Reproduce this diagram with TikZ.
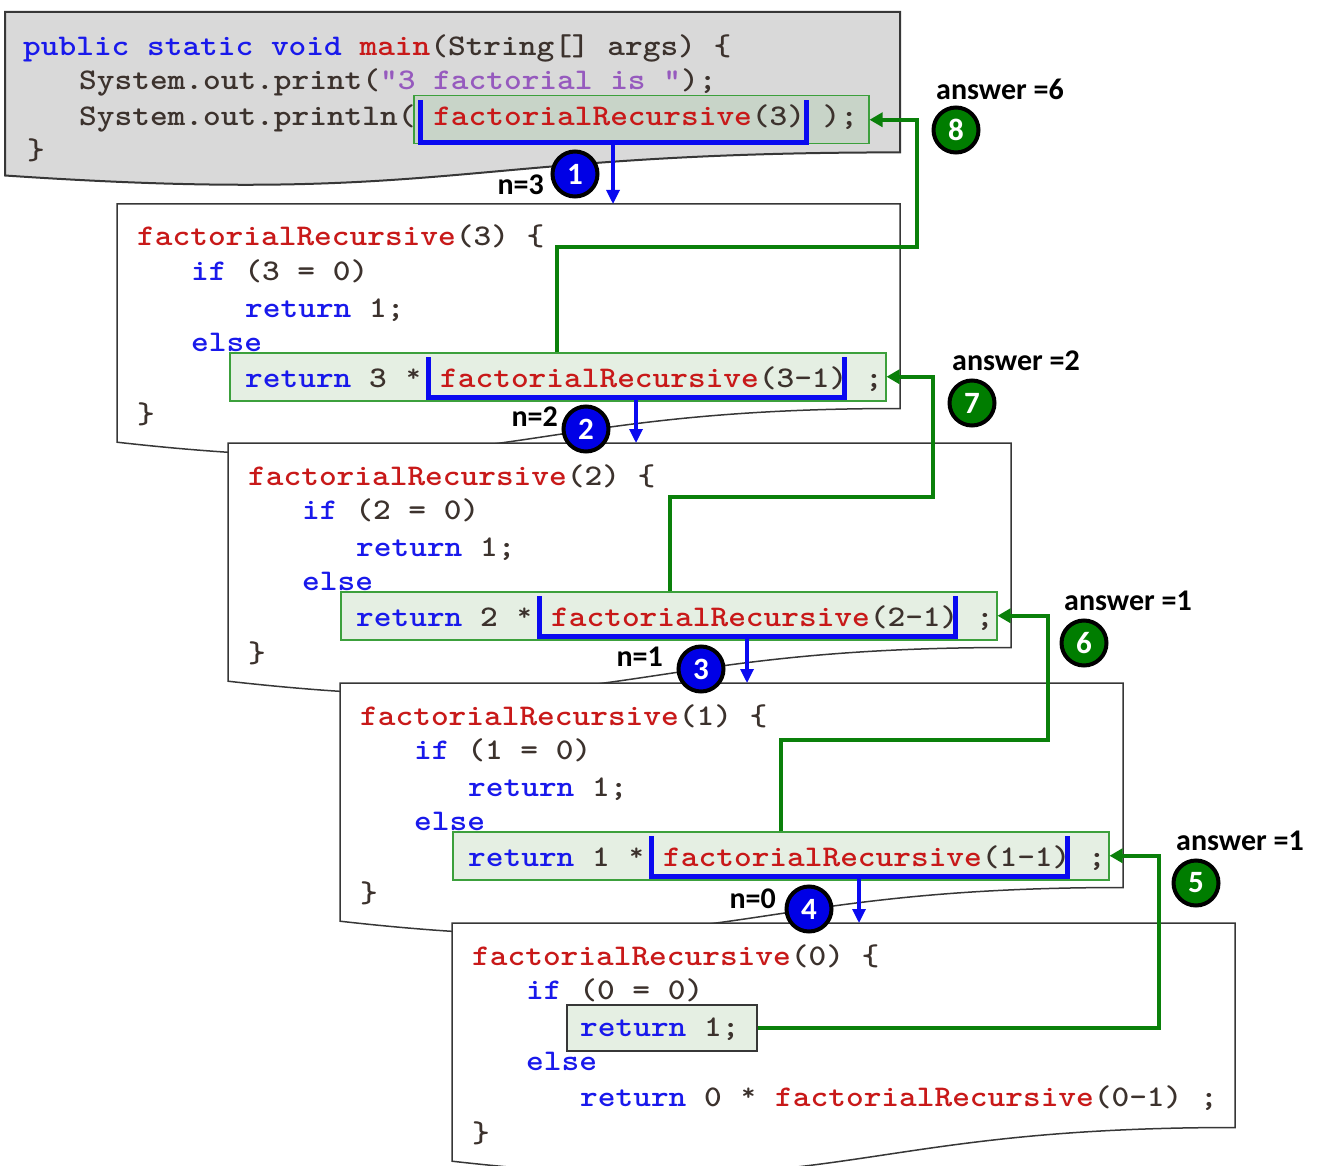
\documentclass[tikz,border=0pt]{standalone}
\usepackage{fontspec}
\newfontfamily\codefont{lmmono10-regular.otf}[BoldFont=lmmonolt10-bold.otf, FakeStretch=1.124]
\newfontfamily\lblfont{Carlito}
\usetikzlibrary{arrows.meta,calc}
\definecolor{kwc}{RGB}{25,25,235}
\definecolor{fnc}{RGB}{200,25,25}
\definecolor{stc}{RGB}{150,90,190}
\definecolor{txc}{RGB}{60,50,45}
\definecolor{gline}{RGB}{10,128,10}
\definecolor{gboxline}{RGB}{60,160,60}
\definecolor{gboxfill}{RGB}{229,239,227}
\definecolor{mboxfill}{RGB}{200,212,200}
\definecolor{mainfill}{RGB}{217,217,217}
\definecolor{framec}{RGB}{55,55,55}
\definecolor{bluec}{RGB}{10,10,240}
\definecolor{circblue}{RGB}{0,0,230}
\definecolor{circgreen}{RGB}{0,125,0}
\newcommand\ckw[1]{\textcolor{kwc}{#1}}
\newcommand\cfn[1]{\textcolor{fnc}{#1}}
\newcommand\cstr[1]{\textcolor{stc}{#1}}
\newcommand\cast{\makebox[0.6em]{\raisebox{0.18em}{\scalebox{0.8}{*}}}}
\tikzset{
  code/.style={anchor=base west, inner sep=0pt, text=txc,
    font=\codefont\bfseries\fontsize{30}{35}\selectfont},
  docframe/.style={draw=framec, line width=1.5pt, fill=white},
  gbox/.style={draw=gboxline, line width=1.5pt, fill=gboxfill, inner sep=0pt},
  bracket/.style={draw=bluec, line width=5pt},
  barrow/.style={draw=bluec, line width=3.2pt, -{Triangle[length=14pt,width=13pt]}},
  gret/.style={draw=gline, line width=4pt, -{Triangle[length=13pt,width=14pt]}},
  numcirc/.style={circle, draw=black, line width=4pt, minimum size=45pt, inner sep=0pt,
    text=white, font=\lblfont\bfseries\fontsize{31}{31}\selectfont},
  bluecirc/.style={numcirc, fill=circblue},
  greencirc/.style={numcirc, fill=circgreen},
  lbl/.style={inner sep=0pt, text=black, font=\lblfont\bfseries\fontsize{30}{30}\selectfont},
}
\newcommand\recframe[4]{% #1 L, #2 T, #3 n, #4 id
\begin{scope}[shift={(#1,#2)}]
  \coordinate (#4top) at (0,0);
  \draw[docframe] (0,0) -- (783,0) -- (783,204.5)
     .. controls (391.5,204.5) and (391.5,282.3) .. (0,238.2) -- cycle;
  \node[gbox, minimum width=656pt, minimum height=48pt, anchor=north west] (#4box) at (112,148) {};
  \draw[bracket] (311,153) -- (311,193) -- (727,193) -- (727,153);
  \coordinate (#4bot) at (519,193);
  \node[code] (#4l1) at (20,42) {\cfn{factorialRecursive}(#3) \{};
  \node[code] (#4l2) at (74,76) {\ckw{if} (#3 = 0)};
  \node[code] (#4l3) at (128,113) {\ckw{return} 1;};
  \node[code] (#4l4) at (74,147) {\ckw{else}};
  \node[code] (#4l5) at (128,183) {\ckw{return} #3 \cast{} \cfn{factorialRecursive}(#3-1) ;};
  \node[code] (#4l6) at (20,219) {\}};
\end{scope}}
\begin{document}
\begin{tikzpicture}[x=1pt,y=-1pt]
\useasboundingbox (0,0) rectangle (1325,1166);
% main frame
\draw[docframe, fill=mainfill, line width=2pt] (5,12) -- (900,12) -- (900,152.4)
   .. controls (452.5,152.4) and (452.5,205.7) .. (5,175.5) -- cycle;
\node[gbox, fill=mboxfill, minimum width=455pt, minimum height=48pt, anchor=north west] (m0box) at (413,95) {};
\draw[bracket] (420,100) -- (420,143) -- (806,143) -- (806,100);
\coordinate (m0bot) at (613,143);
\node[code] (m1) at (23,56) {\ckw{public static void} \cfn{main}(String[] args) \{};
\node[code] (m2) at (79,90) {System.out.print(\cstr{"3 factorial is "});};
\node[code] (m3) at (79,126) {System.out.println( \cfn{factorialRecursive}(3) );};
\node[code] (m4) at (27,160) {\}};
% recursive frames
\recframe{117}{204}{3}{f1}
\recframe{228}{443}{2}{f2}
\recframe{340}{683}{1}{f3}
% base frame
\begin{scope}[shift={(452,923)}]
  \coordinate (f4top) at (0,0);
  \draw[docframe] (0,0) -- (783,0) -- (783,204.5)
     .. controls (391.5,204.5) and (391.5,282.3) .. (0,238.2) -- cycle;
  \node[gbox, draw=framec, minimum width=190pt, minimum height=46pt, anchor=north west] (f4ret) at (114,81) {};
  \node[code] (f4l1) at (20,42) {\cfn{factorialRecursive}(0) \{};
  \node[code] (f4l2) at (74,76) {\ckw{if} (0 = 0)};
  \node[code] (f4l3) at (128,113) {\ckw{return} 1;};
  \node[code] (f4l4) at (74,147) {\ckw{else}};
  \node[code] (f4l5) at (128,183) {\ckw{return} 0 \cast{} \cfn{factorialRecursive}(0-1) ;};
  \node[code] (f4l6) at (20,219) {\}};
\end{scope}
% call arrows
\draw[barrow] (m0bot) -- (m0bot |- f1top);
\draw[barrow] (f1bot) -- (f1bot |- f2top);
\draw[barrow] (f2bot) -- (f2bot |- f3top);
\draw[barrow] (f3bot) -- (f3bot |- f4top);
% return arrows
\coordinate (r8) at (557,352);
\coordinate (r7) at (670,591);
\coordinate (r6) at (781,831);
\draw[gret] (r8) |- (917,247) |- (m0box.east);
\draw[gret] (r7) |- (933,497) |- (f1box.east);
\draw[gret] (r6) |- (1048,740) |- (f2box.east);
\draw[gret] (f4ret.east) -| ($(f3box.east)+(49,0)$) -- (f3box.east);
% call circles
\node[bluecirc] (c1) at (575,174) {1};
\node[bluecirc] (c2) at (586,429) {2};
\node[bluecirc] (c3) at (701,669) {3};
\node[bluecirc] (c4) at (809,909) {4};
\node[lbl, anchor=east] (n3) at (544,185) {n=3};
\node[lbl, anchor=east] (n2) at (558,417) {n=2};
\node[lbl, anchor=east] (n1) at (663,657) {n=1};
\node[lbl, anchor=east] (n0) at (776,899) {n=0};
% return circles
\node[greencirc] (c8) at (956,130) {8};
\node[greencirc] (c7) at (972,403) {7};
\node[greencirc] (c6) at (1084,643) {6};
\node[greencirc] (c5) at (1196,883) {5};
\node[lbl, anchor=west] (a8) at (936,89) {answer =6};
\node[lbl, anchor=west] (a7) at (952,361) {answer =2};
\node[lbl, anchor=west] (a6) at (1064,601) {answer =1};
\node[lbl, anchor=west] (a5) at (1176,841) {answer =1};
\end{tikzpicture}
\end{document}
